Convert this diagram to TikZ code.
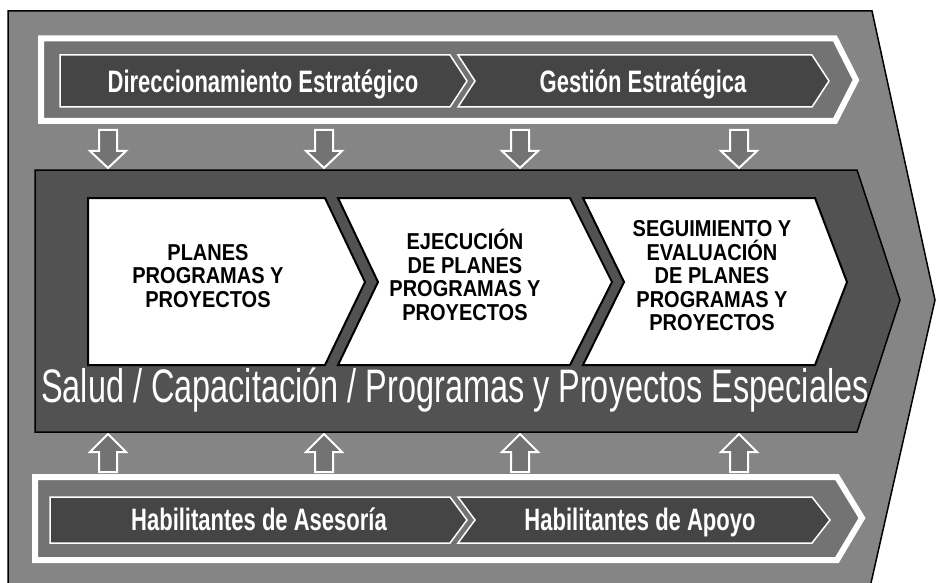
\documentclass[tikz,border=0pt]{standalone}
\usepackage{fontspec}
\setmainfont{Liberation Sans}
\newfontfamily\narrowfont[FakeStretch=0.71]{Liberation Sans}
\newfontfamily\stagefont[FakeStretch=0.87]{Liberation Sans}
\newfontfamily\widefont[FakeStretch=0.69]{Liberation Sans}
\usetikzlibrary{positioning}
\definecolor{bggray}{gray}{0.52}
\definecolor{bandgray}{gray}{0.45}
\definecolor{arrowgray}{gray}{0.27}
\definecolor{midband}{gray}{0.32}
\tikzset{
  whiteframe/.style={draw=white, line width=6pt, fill=bandgray},
  darkarrow/.style={draw=white, line width=1.5pt, fill=arrowgray},
  blockarrow/.style={draw=white, line width=2pt, fill=bandgray},
  stagebox/.style={draw=black, line width=2pt, fill=white},
  bandtext/.style={anchor=base, text=white,
    font=\narrowfont\bfseries\fontsize{31}{31}\selectfont},
  stagetext/.style={align=center, text=black,
    font=\stagefont\bfseries\fontsize{23}{23.5}\selectfont},
}

\begin{document}
\begin{tikzpicture}[x=1pt,y=-1pt]
  \useasboundingbox (0,0) rectangle (937,583);

  % fondo
  \fill[bggray] (8,11) -- (872,11) -- (935,300) -- (871,583) -- (8,583) -- cycle;
  \draw[line width=1.5pt] (8,583) -- (8,11) -- (872,11) -- (935,300) -- (871,583);

  % banda superior
  \path[whiteframe] (41,38.5) -- (835,38.5) -- (856,80) -- (835,121) -- (41,121) -- cycle;
  \path[darkarrow] (60,55) -- (450,55) -- (467,81) -- (450,107) -- (60,107) -- cycle;
  \path[darkarrow] (458,55) -- (812,55) -- (829,81) -- (812,107) -- (458,107) -- (475,81) -- cycle;
  \node (dir) [bandtext] at (263,93) {Direccionamiento Estratégico};
  \node (ges) [bandtext] at (643,93) {Gestión Estratégica};

  \foreach \x in {108,324,520,739} {
    \path[blockarrow] (\x-9,130) -- (\x+9,130) -- (\x+9,151) -- (\x+18,151)
      -- (\x,168) -- (\x-18,151) -- (\x-9,151) -- cycle;
    \path[blockarrow] (\x-9,472) -- (\x+9,472) -- (\x+9,452) -- (\x+18,452)
      -- (\x,434) -- (\x-18,452) -- (\x-9,452) -- cycle;
  }

  % banda central
  \draw[fill=midband, line width=1.5pt] (35,170) -- (857,170) -- (900,300) -- (857,432) -- (35,432) -- cycle;
  \path[stagebox] (88,198) -- (325,198) -- (365,282) -- (325,365) -- (88,365) -- cycle;
  \path[stagebox] (338,198) -- (570,198) -- (612,282) -- (570,365) -- (338,365) -- (378,282) -- cycle;
  \path[stagebox] (583,198) -- (815,198) -- (847,282) -- (815,365) -- (583,365) -- (624,282) -- cycle;
  \node (plan) [stagetext] at (208,276) {PLANES\\PROGRAMAS Y\\PROYECTOS};
  \node (ejec) [stagetext] at (465,275) {EJECUCIÓN\\DE PLANES\\PROGRAMAS Y\\PROYECTOS};
  \node (segu) [stagetext] at (712,276) {SEGUIMIENTO Y\\EVALUACIÓN\\DE PLANES\\PROGRAMAS Y\\PROYECTOS};
  \node (salud) [anchor=base, text=white, font=\widefont\fontsize{47}{47}\selectfont]
    at (455,402) {Salud / Capacitación / Programas y Proyectos Especiales};

  % banda inferior
  \path[whiteframe] (35,477) -- (837,477) -- (862,518) -- (837,560) -- (35,560) -- cycle;
  \path[darkarrow] (50,497) -- (450,497) -- (467,520) -- (450,543) -- (50,543) -- cycle;
  \path[darkarrow] (458,497) -- (812,497) -- (830,520) -- (812,543) -- (458,543) -- (475,520) -- cycle;
  \node (ases) [bandtext] at (259,530) {Habilitantes de Asesoría};
  \node (apoy) [bandtext] at (640,530) {Habilitantes de Apoyo};
\end{tikzpicture}
\end{document}
